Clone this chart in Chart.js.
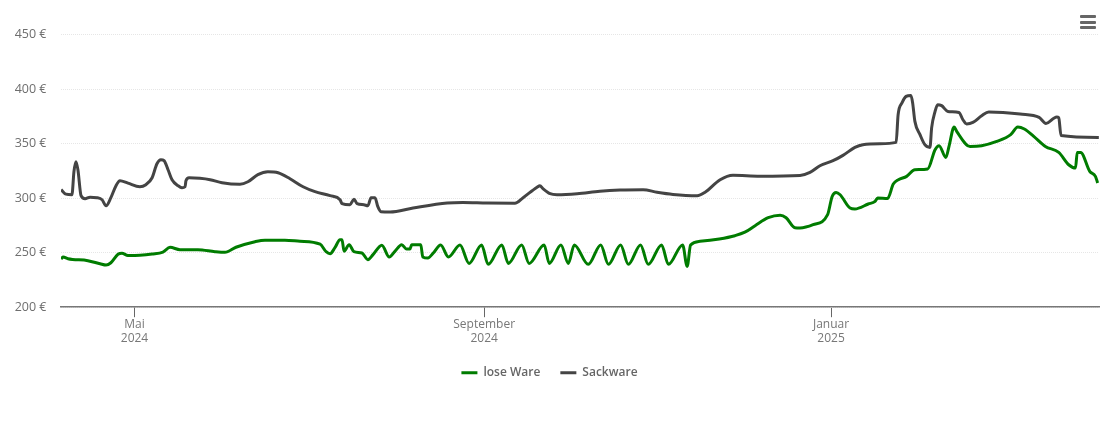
<!DOCTYPE html>
<html><head><meta charset="utf-8">
<script src="https://cdn.jsdelivr.net/npm/chart.js@4"></script>
<style>
html,body{margin:0;padding:0;background:#fff}
#wrap{position:relative;width:1110px;height:422px}
#menu{position:absolute;left:1080px;top:15px;width:16px}
#menu div{height:3px;background:#666;border-radius:1px;margin-bottom:2.5px}
</style></head><body>
<div id="wrap"><canvas id="c" width="1110" height="422"></canvas><div id="menu" aria-hidden="true"><div></div><div></div><div></div></div></div>
<script>
// x values are days counted from 2024-01-01
const tickDays = [121, 244, 366];
const tickMonths = ["Mai", "September", "Januar"];
const tickYears = ["2024", "2024", "2025"];
const yMin = 200, yMax = 450, yStep = 50;
const xMin = 95.15, xMax = 460.26;

const seriesNames = ["lose Ware", "Sackware"];

const loseDays = [95.2,95.9,97.6,104.6,108.9,111,112.7,115.2,116.6,118.7,122.9,127.2,131,133.5,137,143.3,149.3,152.8,156.7,163.4,166.9,173.9,179.2,186.3,188.4,189.8,191.5,193.3,194,194.7,196.5,198.2,201,203.1,204.9,208,210.6,212.6,215,216.7,217.9,218.5,221.7,222.4,224.2,226.1,228.7,231.4,235.5,238.7,243.1,245.4,250.2,252.5,257.2,259.8,265.1,266.9,271,273.6,275.7,280.6,285,287.7,292,294.7,299,301.7,306.4,308.8,313.8,315.4,316.6,319.9,326.7,332.2,335.7,339.3,343.9,348.1,350.2,353.3,355.1,359.7,364.8,366.4,367.8,369.2,372.7,374.4,379.1,381.5,382.4,385.9,387.9,389.7,392.6,395.5,400,402.6,404,406.4,407.5,409.3,410.2,414.9,419,424.3,429.2,431.7,434,437.3,441.4,446.1,449.6,452,452.6,453.8,457,459,459.8];
const loseValues = [244.2,246.1,244.5,242.7,239.9,238.7,240.8,248.6,249.5,247.5,247.7,248.8,250.6,254.9,252.8,252.8,250.9,250.3,255,260.1,261.5,261.5,260.5,257.8,250.9,249.1,254.6,261.9,261.9,251.4,257.3,250.9,249.7,243.6,248.2,256.9,246.1,251.2,257.3,253.4,253.4,257.3,257.3,246.1,245.1,249.7,257.1,246.1,257.1,240.2,257.1,239.3,257.1,240.2,257.1,240.2,257.1,240.2,257.1,240.2,257.1,239.3,257.1,239.3,257.1,239.3,257.1,239.3,257.1,239.3,257.1,237.4,257.1,260.4,262.6,265.6,268.8,274.8,282.1,284.4,282.1,272.9,272.7,275.7,284.9,301.6,305.3,303.2,291,290.1,294.7,297.1,300.2,299.8,313,317,320,326.1,326.8,344.5,348.2,337.4,347.5,365.3,361.3,347.5,348.2,352.1,358.3,365.3,363.5,356.7,347.5,342,330.7,327.7,342,342,324.6,320,313.9];

const sackDays = [95.2,96.9,99,99.7,100.4,101.1,102.2,103.6,105.4,107.8,109.6,111,112.7,114.5,115.9,118.7,122.9,125,127.2,128.9,130.3,131.4,132.8,134.2,136.3,137.7,138.8,139.1,140.2,144,147.6,151.8,158.1,160.9,164.4,167.9,171.5,175.7,180.3,184.5,189.8,193.3,194,196.8,198.2,199.3,201.7,203.1,204.2,205.6,206.6,207.7,210.9,219,231,236.5,245,254.8,257.7,262.6,263.6,264.7,267.2,269.6,276.7,284.7,291.8,299.9,304.8,310.4,318.9,321.7,327,331.5,341,355.1,358.6,362.1,366.7,370.2,374.4,377.2,383.2,388.9,389.6,391,392.4,394.1,394.7,395.5,397.3,399,400.8,401.4,402.6,403.5,404.9,407.1,411,412.4,413.7,415.9,419,421.5,426.5,432.5,439.2,441.6,445.4,446.1,446.9,460.2];
const sackValues = [307.8,303.7,303.2,324.3,333.5,326.1,302.3,299.5,300.9,300.5,298.6,293.1,300.5,311.5,316,313.8,310.5,312.4,318.8,331.6,335.3,334.4,326.1,317,311.5,309.6,310.5,316,318.8,318.3,317,314.2,312.8,315.1,321.6,324.3,323.4,317.9,310.5,306,302.3,298.6,295,294,299.1,295,294,293.1,300.5,300.5,292.2,287.6,287.3,291,295.6,296.1,295.6,295.4,300.5,310.1,311.5,308.7,304.1,303.2,304.1,306.4,307.5,307.8,305.5,303.5,302.3,305.5,317,321.1,320.2,320.9,323.7,329.8,334.4,339.3,346.6,349.1,350,351.2,376.6,387.6,393.4,394.3,387.6,370.5,358.3,349.1,346.6,364.7,379.6,385.8,384.9,379.6,378.7,372,368.1,369.5,375.7,379.1,378.7,377.2,374.1,368.6,374.5,373.8,357.6,355.8];

const pairs = (xs, ys) => xs.map((x, i) => ({ x, y: ys[i] }));

new Chart(document.getElementById('c'), {
  type: 'line',
  data: { datasets: [
    { label: seriesNames[0], data: pairs(loseDays, loseValues), borderColor: '#007c00', backgroundColor: '#007c00', borderWidth: 3, pointRadius: 0, cubicInterpolationMode: 'monotone' },
    { label: seriesNames[1], data: pairs(sackDays, sackValues), borderColor: '#444444', backgroundColor: '#444444', borderWidth: 3, pointRadius: 0, cubicInterpolationMode: 'monotone' }
  ]},
  options: {
    responsive: false, animation: false, parsing: true,
    layout: { padding: { top: 34.7, right: 11, bottom: 33.3, left: 0 } },
    plugins: {
      tooltip: { enabled: false },
      legend: { position: 'bottom', labels: {
        usePointStyle: true, pointStyle: 'line', pointStyleWidth: 16, boxHeight: 12, padding: 20,
        color: '#666', font: { family: 'Open Sans', size: 12, weight: '600' },
        generateLabels(chart) {
          return chart.data.datasets.map((d, i) => ({ text: d.label, fillStyle: d.borderColor, strokeStyle: d.borderColor, lineWidth: 3, pointStyle: 'line', datasetIndex: i, fontColor: '#666' }));
        }
      } }
    },
    scales: {
      x: {
        type: 'linear', min: xMin, max: xMax,
        afterBuildTicks(s) { s.ticks = tickDays.map(value => ({ value })); },
        afterFit(s) { s.height = 39.5; },
        grid: { drawOnChartArea: false, drawTicks: true, tickLength: 10, color: '#666' },
        border: { display: true, color: '#777', width: 1.5 },
        ticks: { autoSkip: false, maxRotation: 0, minRotation: 0, padding: 0, color: '#777',
          font: { family: 'Open Sans', size: 12 },
          callback(v) { const i = tickDays.indexOf(v); return [tickMonths[i], tickYears[i]]; } }
      },
      y: {
        min: yMin, max: yMax,
        afterFit(s) { s.width = 61; },
        grid: { drawTicks: false, color: '#e6e6e6' },
        border: { display: false, dash: [1, 1] },
        ticks: { stepSize: yStep, padding: 14.5, color: '#6e6e6e',
          font: { family: 'Open Sans', size: 12.5 },
          callback: v => v + ' €' }
      }
    }
  }
});
</script>
</body></html>
